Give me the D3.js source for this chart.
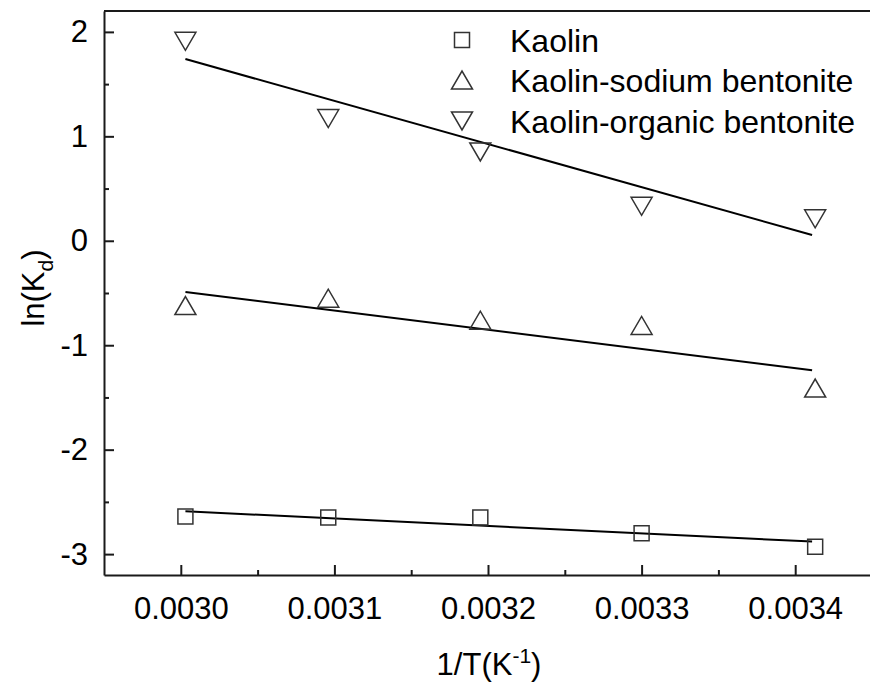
<!DOCTYPE html>
<html>
<head>
<meta charset="utf-8">
<script src="https://cdn.jsdelivr.net/npm/d3@7"></script>
<style>
  html, body { margin: 0; padding: 0; background: #fff; }
  svg { display: block; }
  text { font-family: "Liberation Sans", Arial, sans-serif; fill: #000; }
</style>
</head>
<body>
<svg id="chart" width="870" height="682"></svg>
<script>
// ---- data ----
const invT = [0.003003, 0.003096, 0.003195, 0.003300, 0.003413];
const kaolin = [-2.64, -2.65, -2.65, -2.80, -2.93];
const sodium = [-0.62, -0.55, -0.76, -0.81, -1.41];
const organic = [1.91, 1.17, 0.85, 0.33, 0.21];
const fitX = [0.003003, 0.003411];
const kaolinFit = [-2.59, -2.88];
const sodiumFit = [-0.49, -1.24];
const organicFit = [1.74, 0.055];
const seriesNames = ["Kaolin", "Kaolin-sodium bentonite", "Kaolin-organic bentonite"];
const xTicks = [0.0030, 0.0031, 0.0032, 0.0033, 0.0034];
const xMinor = [0.00305, 0.00315, 0.00325, 0.00335];
const yTicks = [-3, -2, -1, 0, 1, 2];
const yMinor = [-2.5, -1.5, -0.5, 0.5, 1.5];

const svg = d3.select("#chart");
const L = 104, R = 872, T = 11, B = 575;
const x = d3.scaleLinear().domain([0.00295, 0.00345]).range([L, R]);
const y = d3.scaleLinear().domain([-3.2, 2.2]).range([B, T]);

const ink = "#1a1a1a";

// frame (top + right, partially off-canvas)
svg.append("path")
  .attr("d", `M${L},${T} H${R} V${B}`)
  .attr("fill", "none").attr("stroke", ink).attr("stroke-width", 2);

// x axis
const xAxis = d3.axisBottom(x).tickValues(xTicks).tickFormat(d3.format(".4f"))
  .tickSizeInner(-10).tickSizeOuter(0).tickPadding(22);
const gx = svg.append("g").attr("transform", `translate(0,${B})`).call(xAxis);
gx.select(".domain").attr("stroke", ink).attr("stroke-width", 2);
gx.selectAll(".tick line").attr("stroke", ink).attr("stroke-width", 2);
gx.selectAll(".tick text").attr("font-size", 31).attr("fill", "#000")
  .attr("font-family", "'Liberation Sans', Arial, sans-serif");
svg.append("g").attr("transform", `translate(0,${B})`)
  .call(d3.axisBottom(x).tickValues(xMinor).tickFormat("").tickSizeInner(-5).tickSizeOuter(0))
  .call(g => g.select(".domain").remove())
  .selectAll(".tick line").attr("stroke", ink).attr("stroke-width", 2);

// y axis
const yAxis = d3.axisLeft(y).tickValues(yTicks).tickFormat(d => String(d))
  .tickSizeInner(-10).tickSizeOuter(0).tickPadding(16);
const gy = svg.append("g").attr("transform", `translate(${L},0)`).call(yAxis);
gy.select(".domain").attr("stroke", ink).attr("stroke-width", 2);
gy.selectAll(".tick line").attr("stroke", ink).attr("stroke-width", 2);
gy.selectAll(".tick text").attr("font-size", 31).attr("fill", "#000")
  .attr("font-family", "'Liberation Sans', Arial, sans-serif");
svg.append("g").attr("transform", `translate(${L},0)`)
  .call(d3.axisLeft(y).tickValues(yMinor).tickFormat("").tickSizeInner(-5).tickSizeOuter(0))
  .call(g => g.select(".domain").remove())
  .selectAll(".tick line").attr("stroke", ink).attr("stroke-width", 2);

// axis titles
svg.append("text").attr("x", 489).attr("y", 675)
  .attr("text-anchor", "middle").attr("font-size", 31)
  .html('1/T(K<tspan dy="-12" font-size="21">-1</tspan><tspan dy="12">)</tspan>');
svg.append("text").attr("transform", `translate(44,${(T + B) / 2 - 5}) rotate(-90)`)
  .attr("text-anchor", "middle").attr("font-size", 31)
  .html('ln(K<tspan dy="9" font-size="21">d</tspan><tspan dy="-9">)</tspan>');

// fit lines
const line = d3.line().x(d => x(d[0])).y(d => y(d[1]));
[kaolinFit, sodiumFit, organicFit].forEach(f => {
  svg.append("path").datum(fitX.map((v, i) => [v, f[i]]))
    .attr("d", line).attr("fill", "none").attr("stroke", "#000").attr("stroke-width", 2);
});

// symbols
const sq = "M-7.5,-7.5H7.5V7.5H-7.5Z";
const up = "M-10.5,9L10.5,9L0,-9Z";
const down = "M-10.5,-9L10.5,-9L0,9Z";
const shapes = [sq, up, down];
const mark = "#333";
[kaolin, sodium, organic].forEach((s, k) => {
  svg.append("g").selectAll("path").data(s).join("path")
    .attr("transform", (d, i) => `translate(${x(invT[i])},${y(d)})`)
    .attr("d", shapes[k]).attr("fill", "none").attr("stroke", mark).attr("stroke-width", 1.5);
});

// legend
const legY = [40, 80, 121];
seriesNames.forEach((n, k) => {
  svg.append("path").attr("transform", `translate(462,${legY[k]})`)
    .attr("d", shapes[k]).attr("fill", "none").attr("stroke", mark).attr("stroke-width", 1.5);
  svg.append("text").attr("x", 510).attr("y", legY[k] + 11.5)
    .attr("font-size", 32).text(n);
});
</script>
</body>
</html>
